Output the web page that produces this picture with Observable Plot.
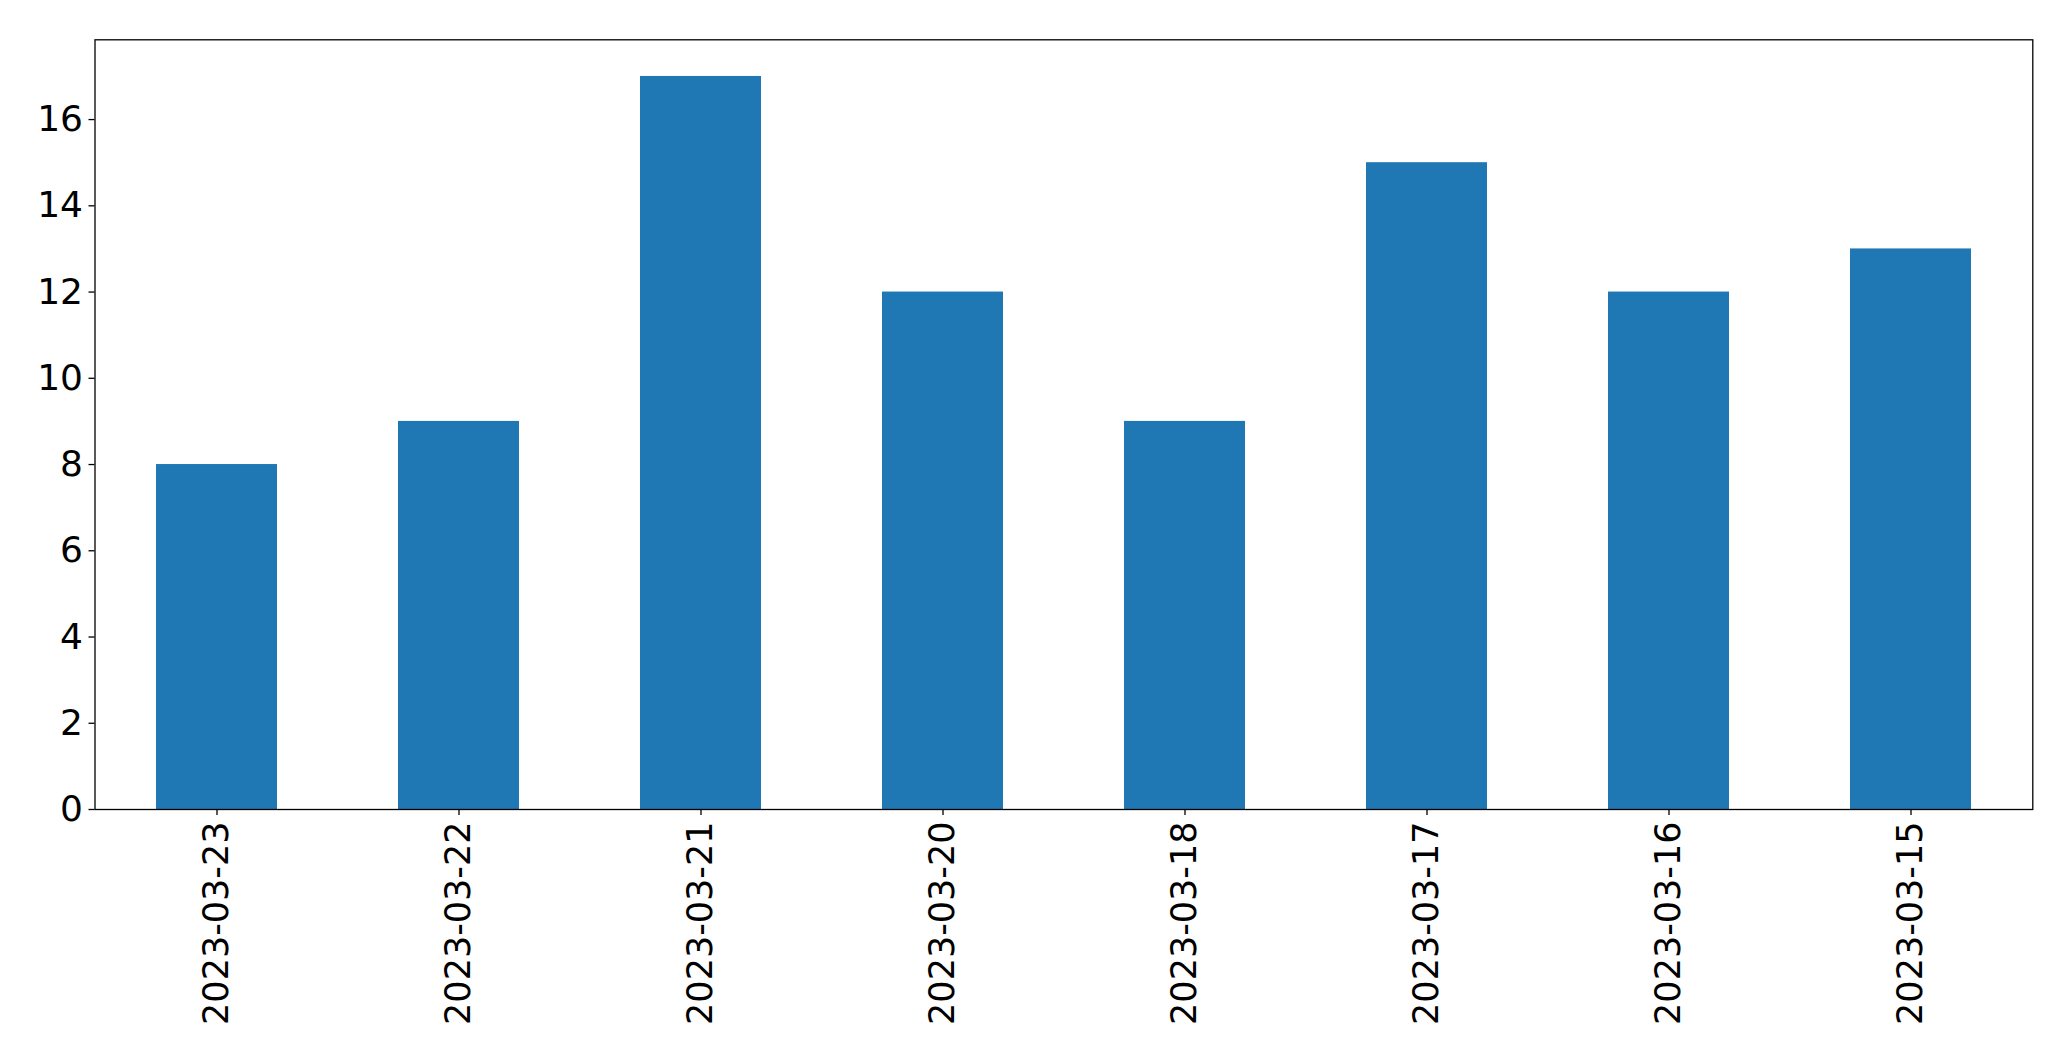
<!DOCTYPE html>
<html>
<head>
<meta charset="utf-8">
<script src="https://cdn.jsdelivr.net/npm/d3@7"></script>
<script src="https://cdn.jsdelivr.net/npm/@observablehq/plot@0.6"></script>
<style>
  html, body { margin: 0; padding: 0; background: #fff; overflow: hidden; }
  #chart svg { display: block; }
</style>
</head>
<body>
<div id="chart"></div>
<script>
const dates = ["2023-03-23", "2023-03-22", "2023-03-21", "2023-03-20", "2023-03-18", "2023-03-17", "2023-03-16", "2023-03-15"];
const counts = [8, 9, 17, 12, 9, 15, 12, 13];
const yTicks = [0, 2, 4, 6, 8, 10, 12, 14, 16];

const data = dates.map((d, i) => ({date: d, count: counts[i]}));

const chart = Plot.plot({
  width: 2071,
  height: 1061,
  marginLeft: 94.5,
  marginRight: 38.7,
  marginTop: 39.3,
  marginBottom: 252,
  style: {fontFamily: "DejaVu Sans", fontSize: "35px", color: "#000", background: "#fff"},
  x: {domain: dates, paddingInner: 0.5, paddingOuter: 0.25, label: null},
  y: {domain: [0, 17.85], label: null},
  marks: [
    Plot.barY(data, {x: "date", y: "count", fill: "#1f77b4"}),
    Plot.axisX({ticks: dates, tickSize: 6, tickRotate: -90, tickPadding: 6, fontSize: 35, label: null, stroke: "#000", strokeWidth: 1.3}),
    Plot.axisY({ticks: yTicks, tickSize: 6, tickPadding: 6, fontSize: 36, label: null, stroke: "#000", strokeWidth: 1.3}),
    Plot.frame({stroke: "#000", strokeWidth: 1.3})
  ]
});
document.getElementById("chart").appendChild(chart);
</script>
</body>
</html>
